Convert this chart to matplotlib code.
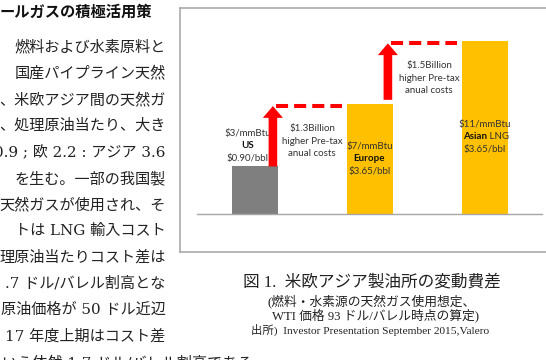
import matplotlib
matplotlib.use('Agg')
from matplotlib import pyplot as plt


W, H = 546, 360

# chart values: bar height follows the gas price in $/mmBtu
regions = ['US', 'Europe', 'Asian']
region_extra = ['', '', 'LNG']
gas_price = [3, 7, 11]
price_labels = ['$3/mmBtu', '$7/mmBtu', '$11/mmBtu']
bbl_labels = ['$0.90/bbl', '$3.65/bbl', '$3.65/bbl']
bar_colors = ['#7f7f7f', '#ffc000', '#ffc000']
gap_labels = ['$1.3Billion', '$1.5Billion']
gap_sub = ['higher Pre-tax', 'anual costs']

# page text around the chart
title_line = 'ールガスの積極活用策'
body_lines = [
    '燃料および水素原料と',
    '国産パイプライン天然',
    '、米欧アジア間の天然ガ',
    '、処理原油当たり、大き',
    '0.9 ; 欧 2.2 : アジア 3.6',
    'を生む。一部の我国製',
    '天然ガスが使用され、そ',
    'トは LNG 輸入コスト',
    '理原油当たりコスト差は',
    '.7 ドル/バレル割高とな',
    '原油価格が 50 ドル近辺',
    '17 年度上期はコスト差',
]
last_line = 'いう依然 1.7 ドル/バレル割高である。'
caption = '図 1.  米欧アジア製油所の変動費差'
caption_sub = ['(燃料・水素源の天然ガス使用想定、', 'WTI 価格 93 ドル/バレル時点の算定)']
source = '出所)  Investor Presentation September 2015,Valero'


def fx(x):
    return x / W


def fy(y):
    return 1 - y / H


jp = ['Liberation Serif', 'Noto Sans CJK JP']
jp_body = ['DejaVu Serif', 'Noto Sans CJK JP']
lab = 'Lato'
fs_lab = 7

fig = plt.figure(figsize=(W / 100, H / 100), dpi=100)
fig.patch.set_facecolor('white')

# frame around the chart
frame = fig.add_axes([fx(179.5), fy(252), 1, (252 - 7.5) / H])
frame.set_xticks([])
frame.set_yticks([])
for s in frame.spines.values():
    s.set_color('#aaaaaa')
    s.set_linewidth(1.2)

# bar chart
unit = 15.68  # px per $/mmBtu
ax = fig.add_axes([fx(197), fy(213.5), (542 - 197) / W, 12 * unit / H])
ax.set_facecolor('none')
x = list(range(len(regions)))
ax.bar(x, gas_price, width=0.4, color=bar_colors, zorder=2)
ax.set_xlim(-0.5, 2.5)
ax.set_ylim(0, 12)
ax.set_xticks([])
ax.set_yticks([])
for s in ['top', 'left', 'right']:
    ax.spines[s].set_visible(False)
ax.spines['bottom'].set_color('#a6a6a6')
ax.spines['bottom'].set_linewidth(1.0)

# labels on / above the bars
step = 0.79
label_x = [-0.06, 1.0, 2.0]
label_mid = [4.31, 3.49, 4.88]
for i in x:
    xm, ym = label_x[i], label_mid[i]
    ax.text(xm, ym + step, price_labels[i], ha='center', va='center', fontsize=fs_lab,
            family=lab, color='#333333', zorder=3)
    if region_extra[i]:
        ax.text(xm + 0.02, ym, regions[i], ha='right', va='center', fontsize=fs_lab,
                family=lab, fontweight='bold', color='#111111', zorder=3)
        ax.text(xm + 0.02, ym, ' ' + region_extra[i], ha='left', va='center', fontsize=fs_lab,
                family=lab, color='#333333', zorder=3)
    else:
        ax.text(xm, ym, regions[i], ha='center', va='center', fontsize=fs_lab,
                family=lab, fontweight='bold', color='#111111', zorder=3)
    ax.text(xm, ym - step, bbl_labels[i], ha='center', va='center', fontsize=fs_lab,
            family=lab, color='#333333', zorder=3)

# red step-up arrows and dashed levels
start_off = [0.0, 0.25]
gap_x = [0.5, 1.52]
gap_mid = [4.62, 8.64]
for i in range(len(gas_price) - 1):
    xa = i + 0.16
    y0 = gas_price[i] + start_off[i]
    y1 = gas_price[i + 1] - 0.15
    ax.arrow(xa, y0, 0, y1 - y0, width=0.075, head_width=0.175, head_length=0.75,
             length_includes_head=True, color='#ff0000', lw=0, zorder=4)
    ax.plot([xa + 0.03, i + 1 - 0.24], [y1, y1], color='#ff0000', lw=2.9,
            dashes=(3, 1.5), solid_capstyle='butt', zorder=4)
    ax.text(gap_x[i], gap_mid[i] + step, gap_labels[i], ha='center', va='center',
            fontsize=fs_lab, family=lab, color='#333333')
    for k, t in enumerate(gap_sub):
        ax.text(gap_x[i], gap_mid[i] - step * k, t, ha='center', va='center',
                fontsize=fs_lab, family=lab, color='#333333')

# left column text
fig.text(fx(0), fy(12), title_line, ha='left', va='center', fontsize=11,
         family='Noto Sans CJK JP', fontweight='bold', color='#111111')
for k, line in enumerate(body_lines):
    fig.text(fx(165.5), fy(47 + 26.3 * k), line, ha='right', va='center',
             fontsize=10.9, family=jp_body, color='#222222')
fig.text(fx(2), fy(47 + 26.3 * len(body_lines)), last_line, ha='left', va='center',
         fontsize=10.9, family=jp_body, color='#222222')

# caption
fig.text(fx(372), fy(282), caption, ha='center', va='center', fontsize=12,
         family=jp, color='#222222')
fig.text(fx(372), fy(301), caption_sub[0], ha='center', va='center', fontsize=9.2,
         family=jp, color='#222222')
fig.text(fx(376), fy(315), caption_sub[1], ha='center', va='center', fontsize=9.2,
         family=jp, color='#222222')
fig.text(fx(370), fy(330), source, ha='center', va='center', fontsize=8.2,
         family=jp, color='#222222')

fig.savefig('out.png', dpi=100)
